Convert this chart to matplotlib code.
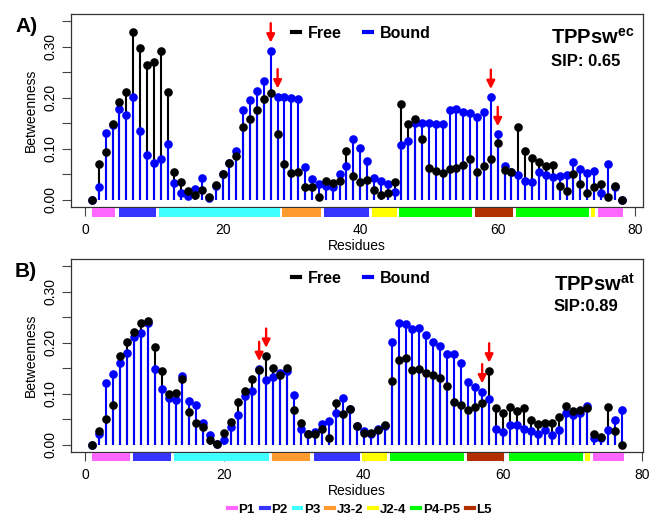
import matplotlib
matplotlib.use("Agg")
import matplotlib.pyplot as plt
import matplotlib.transforms as mtransforms
from matplotlib.lines import Line2D
from matplotlib.patches import Rectangle
import numpy as np

plt.rcParams["font.family"] = ["Liberation Sans", "DejaVu Sans"]
plt.rcParams["mathtext.fontset"] = "custom"
plt.rcParams["mathtext.rm"] = "Liberation Sans"
plt.rcParams["mathtext.bf"] = "Liberation Sans:bold"

# ---- data: panel A (TPPsw ec), 78 residues ----
free_a = [0.000, 0.070, 0.093, 0.149, 0.192, 0.212, 0.329, 0.297, 0.264, 0.270,
          0.292, 0.212, 0.054, 0.034, 0.018, 0.010, 0.020, 0.005, 0.029, 0.051,
          0.073, 0.085, 0.142, 0.159, 0.176, 0.197, 0.210, 0.129, 0.070, 0.052,
          0.055, 0.026, 0.026, 0.005, 0.036, 0.033, 0.036, 0.095, 0.047, 0.034,
          0.039, 0.020, 0.010, 0.014, 0.035, 0.187, 0.149, 0.159, 0.119, 0.063,
          0.057, 0.052, 0.060, 0.062, 0.068, 0.080, 0.054, 0.067, 0.080, 0.112,
          0.059, 0.055, 0.143, 0.095, 0.082, 0.075, 0.067, 0.068, 0.027, 0.018,
          0.051, 0.031, 0.013, 0.026, 0.031, 0.005, 0.027, 0.000]
bound_a = [0.000, 0.025, 0.130, 0.147, 0.177, 0.166, 0.202, 0.135, 0.087, 0.072,
           0.080, 0.110, 0.033, 0.013, 0.007, 0.021, 0.043, 0.004, 0.028, 0.050,
           0.072, 0.095, 0.176, 0.196, 0.214, 0.233, 0.292, 0.202, 0.201, 0.199,
           0.198, 0.065, 0.040, 0.032, 0.027, 0.026, 0.050, 0.067, 0.119, 0.102,
           0.077, 0.042, 0.036, 0.031, 0.016, 0.108, 0.115, 0.151, 0.151, 0.150,
           0.149, 0.149, 0.176, 0.177, 0.173, 0.170, 0.163, 0.173, 0.201, 0.128,
           0.067, 0.054, 0.049, 0.036, 0.035, 0.055, 0.049, 0.044, 0.047, 0.048,
           0.075, 0.060, 0.053, 0.057, 0.014, 0.070, 0.026, 0.000]
arrows_a = [27, 28, 59, 60]
seg_start_a = [1.0, 4.9, 10.8, 28.7, 34.7, 41.7, 45.7, 56.7, 62.6, 73.5, 74.6]
seg_end_a = [4.4, 10.3, 28.3, 34.3, 41.3, 45.3, 56.3, 62.2, 73.2, 74.2, 78.2]

# ---- data: panel B (TPPsw at), 77 residues ----
free_b = [0.000, 0.026, 0.051, 0.077, 0.175, 0.202, 0.221, 0.239, 0.243, 0.192,
          0.144, 0.100, 0.102, 0.129, 0.064, 0.042, 0.035, 0.008, 0.002, 0.022,
          0.044, 0.084, 0.105, 0.128, 0.147, 0.174, 0.151, 0.137, 0.151, 0.067,
          0.042, 0.021, 0.021, 0.031, 0.013, 0.082, 0.061, 0.070, 0.036, 0.023,
          0.022, 0.028, 0.038, 0.125, 0.166, 0.170, 0.147, 0.149, 0.140, 0.136,
          0.130, 0.115, 0.083, 0.078, 0.068, 0.074, 0.082, 0.145, 0.071, 0.062,
          0.073, 0.066, 0.071, 0.049, 0.040, 0.043, 0.042, 0.054, 0.075, 0.066,
          0.067, 0.072, 0.021, 0.015, 0.074, 0.026, 0.000]
bound_b = [0.000, 0.020, 0.121, 0.139, 0.160, 0.179, 0.211, 0.219, 0.238, 0.149,
           0.110, 0.091, 0.088, 0.134, 0.085, 0.077, 0.043, 0.018, 0.002, 0.008,
           0.034, 0.059, 0.095, 0.106, 0.148, 0.127, 0.132, 0.140, 0.144, 0.097,
           0.031, 0.020, 0.024, 0.041, 0.046, 0.062, 0.092, 0.070, 0.036, 0.026,
           0.021, 0.031, 0.037, 0.202, 0.238, 0.237, 0.227, 0.230, 0.215, 0.201,
           0.194, 0.177, 0.177, 0.161, 0.122, 0.114, 0.104, 0.090, 0.031, 0.024,
           0.038, 0.038, 0.031, 0.026, 0.020, 0.029, 0.018, 0.028, 0.062, 0.058,
           0.063, 0.076, 0.012, 0.012, 0.029, 0.049, 0.068]
arrows_b = [25, 26, 57, 58]
seg_start_b = [1.0, 6.85, 12.8, 26.9, 32.9, 39.8, 43.8, 54.8, 60.8, 71.7, 72.9]
seg_end_b = [6.4, 12.3, 26.4, 32.3, 39.4, 43.3, 54.4, 60.2, 71.4, 72.5, 77.3]

# domain order along the sequence (same for both panels)
seg_domain = ["P1", "P2", "P3", "J3-2", "P2", "J2-4", "P4-P5", "L5", "P4-P5", "J2-4", "P1"]
domain_names = ["P1", "P2", "P3", "J3-2", "J2-4", "P4-P5", "L5"]
domain_colors = {"P1": "#FF66FF", "P2": "#3535FF", "P3": "#40FFFF", "J3-2": "#FF9A2E",
                 "J2-4": "#FFFF00", "P4-P5": "#00FF00", "L5": "#B22F00"}

fig = plt.figure(figsize=(6.51, 5.18), dpi=100)


def draw_panel(ax, free, bound, arrows, starts, ends, name, sip, letter, letter_y):
    n = len(free)
    res = np.arange(1, n + 1)
    free = np.array(free)
    bound = np.array(bound)

    ax.vlines(res, 0, free, color="black", lw=1.5, zorder=2)
    ax.vlines(res, 0, bound, color="blue", lw=1.5, zorder=2.1)
    ax.plot(res, bound, "o", color="blue", ms=6.2, mew=0, zorder=3)
    ax.plot(res, free, "o", color="black", ms=6.2, mew=0, zorder=3.1)

    for r in arrows:
        top = max(free[r - 1], bound[r - 1]) + 0.016
        ax.annotate("", xy=(r, top), xytext=(r, top + 0.038),
                    arrowprops=dict(arrowstyle="-|>", color="red", lw=1.7,
                                    mutation_scale=12, shrinkA=0, shrinkB=0),
                    zorder=5)

    pad = 0.04 * (n - 1)
    ax.set_xlim(1 - pad, n + pad)
    ax.set_ylim(-0.014, 0.364)

    yt = np.arange(0, 0.351, 0.05)
    ax.set_yticks(yt)
    ax.set_yticklabels([f"{v:.2f}" if i % 2 == 0 else "" for i, v in enumerate(yt)],
                       rotation=90, va="center")
    ax.set_xticks([0, 20, 40, 60, 80])
    ax.tick_params(axis="both", length=6.5, width=0.8, color="#444444", labelsize=10)
    ax.tick_params(axis="x", pad=5)
    ax.tick_params(axis="y", pad=3)
    for sp in ax.spines.values():
        sp.set_color("#333333")
        sp.set_linewidth(0.9)

    ax.set_ylabel("Betweenness", fontsize=10, labelpad=4)
    ax.set_xlabel("Residues", fontsize=10, labelpad=1.5)

    # domain colour bars under the axis
    trans = mtransforms.blended_transform_factory(ax.transData, ax.transAxes)
    for s, e, d in zip(starts, ends, seg_domain):
        ax.add_patch(Rectangle((s, -0.050), e - s, 0.043, transform=trans,
                               facecolor=domain_colors[d], edgecolor="none",
                               clip_on=False, zorder=4))

    handles = [Line2D([], [], color="black", lw=3), Line2D([], [], color="blue", lw=3)]
    ax.legend(handles, ["Free", "Bound"], loc="center", bbox_to_anchor=(0.508, 0.90),
              ncol=2, frameon=False, handlelength=0.5, handletextpad=0.5,
              columnspacing=1.4, prop={"weight": "bold", "size": 11.5})

    ax.text(0.985, 0.875, r"$\mathbf{" + name + "}$", transform=ax.transAxes,
            ha="right", va="center", fontsize=14.5)
    ax.text(0.90, 0.755, sip, transform=ax.transAxes, ha="center", va="center",
            fontsize=12, fontweight="bold")

    fig.text(15 / 651, letter_y, letter, fontsize=15, fontweight="bold",
             ha="left", va="baseline")


ax_a = fig.add_axes([0.1086, 0.6004, 0.8787, 0.3726])
ax_b = fig.add_axes([0.1086, 0.1280, 0.8787, 0.3714])

draw_panel(ax_a, free_a, bound_a, arrows_a, seg_start_a, seg_end_a,
           "TPPsw^{ec}", "SIP: 0.65", "A)", 1 - 31.7 / 518)
draw_panel(ax_b, free_b, bound_b, arrows_b, seg_start_b, seg_end_b,
           "TPPsw^{at}", "SIP:0.89", "B)", 1 - 276.7 / 518)

dom_handles = [Line2D([], [], color=domain_colors[d], lw=3) for d in domain_names]
fig.legend(dom_handles, domain_names, loc="center", bbox_to_anchor=(0.553, 0.016),
           ncol=7, frameon=False, handlelength=0.6, handletextpad=0.2,
           columnspacing=0.45, prop={"weight": "bold", "size": 9.5})

fig.savefig("out.png", dpi=100)
